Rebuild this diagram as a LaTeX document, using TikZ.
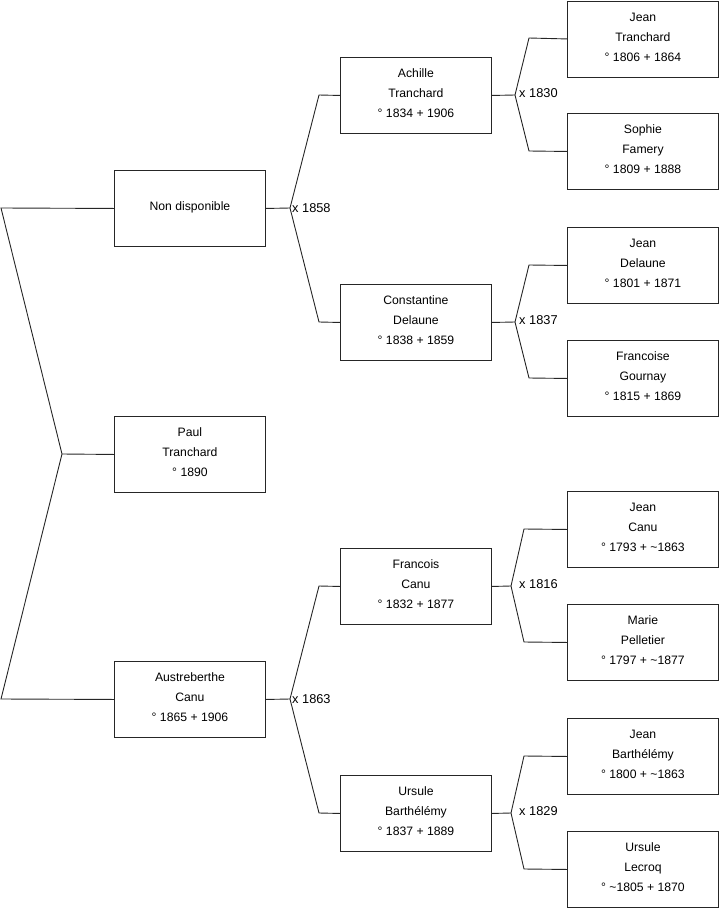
\documentclass[tikz,border=0pt]{standalone}
\usepackage{fontspec}
\setmainfont{Liberation Sans}
\begin{document}
\begin{tikzpicture}[x=1pt,y=-1pt,
  person/.style={draw=black!85,line width=0.9pt,minimum width=151pt,minimum height=76pt,
    inner sep=0pt,align=center,text depth=4pt,font=\fontsize{12.2}{20}\selectfont,anchor=north west},
  link/.style={draw=black!85,line width=0.9pt},
  mlabel/.style={anchor=west,inner sep=0pt,font=\fontsize{12.8}{14}\selectfont}]
\useasboundingbox (0,0) rectangle (719,908);
% generation 1
\node[person] (nd) at (114,170) {Non disponible};
\node[person] (paul) at (114,416) {Paul\\Tranchard\\° 1890};
\node[person] (aus) at (114,661) {Austreberthe\\Canu\\° 1865 + 1906};
% generation 2
\node[person] (ach) at (340,57) {Achille\\Tranchard\\° 1834 + 1906};
\node[person] (con) at (340,284) {Constantine\\Delaune\\° 1838 + 1859};
\node[person] (fra) at (340,548) {Francois\\Canu\\° 1832 + 1877};
\node[person] (urs) at (340,775) {Ursule\\Barthélémy\\° 1837 + 1889};
% generation 3
\node[person] (jt) at (567,0.5) {Jean\\Tranchard\\° 1806 + 1864};
\node[person] (sf) at (567,113) {Sophie\\Famery\\° 1809 + 1888};
\node[person] (jd) at (567,227) {Jean\\Delaune\\° 1801 + 1871};
\node[person] (fg) at (567,340) {Francoise\\Gournay\\° 1815 + 1869};
\node[person] (jc) at (567,491) {Jean\\Canu\\° 1793 + \textasciitilde 1863};
\node[person] (mp) at (567,604) {Marie\\Pelletier\\° 1797 + \textasciitilde 1877};
\node[person] (jb) at (567,718) {Jean\\Barthélémy\\° 1800 + \textasciitilde 1863};
\node[person] (ul) at (567,831) {Ursule\\Lecroq\\° \textasciitilde 1805 + 1870};
% left fork
\coordinate (l1) at (1,208);
\coordinate (l2) at (62,454);
\coordinate (l3) at (1,699);
\draw[link] (nd.west) -- (l1) -- (l2) -- (l3) -- (aus.west);
\draw[link] (l2) -- (paul.west);
% generation 1 -> 2 forks
\coordinate (f1) at (290,208);
\coordinate (f1a) at (319,95);
\coordinate (f1b) at (319,322);
\draw[link] (nd.east) -- (f1);
\draw[link] (ach.west) -- (f1a) -- (f1) -- (f1b) -- (con.west);
\node[mlabel] (m1) at (292,208) {x 1858};
\coordinate (f2) at (290,699);
\coordinate (f2a) at (319,586);
\coordinate (f2b) at (319,813);
\draw[link] (aus.east) -- (f2);
\draw[link] (fra.west) -- (f2a) -- (f2) -- (f2b) -- (urs.west);
\node[mlabel] (m2) at (292,699) {x 1863};
% generation 2 -> 3 forks
\coordinate (g1) at (515,95);
\coordinate (g1a) at (529,38);
\coordinate (g1b) at (529,151);
\draw[link] (ach.east) -- (g1);
\draw[link] (jt.west) -- (g1a) -- (g1) -- (g1b) -- (sf.west);
\node[mlabel] (m3) at (519,93) {x 1830};
\coordinate (g2) at (515,322);
\coordinate (g2a) at (529,265);
\coordinate (g2b) at (529,378);
\draw[link] (con.east) -- (g2);
\draw[link] (jd.west) -- (g2a) -- (g2) -- (g2b) -- (fg.west);
\node[mlabel] (m4) at (519,320) {x 1837};
\coordinate (g3) at (511,586);
\coordinate (g3a) at (524,529);
\coordinate (g3b) at (524,642);
\draw[link] (fra.east) -- (g3);
\draw[link] (jc.west) -- (g3a) -- (g3) -- (g3b) -- (mp.west);
\node[mlabel] (m5) at (519,584) {x 1816};
\coordinate (g4) at (511,813);
\coordinate (g4a) at (524,756);
\coordinate (g4b) at (524,869);
\draw[link] (urs.east) -- (g4);
\draw[link] (jb.west) -- (g4a) -- (g4) -- (g4b) -- (ul.west);
\node[mlabel] (m6) at (519,811) {x 1829};
\end{tikzpicture}
\end{document}
